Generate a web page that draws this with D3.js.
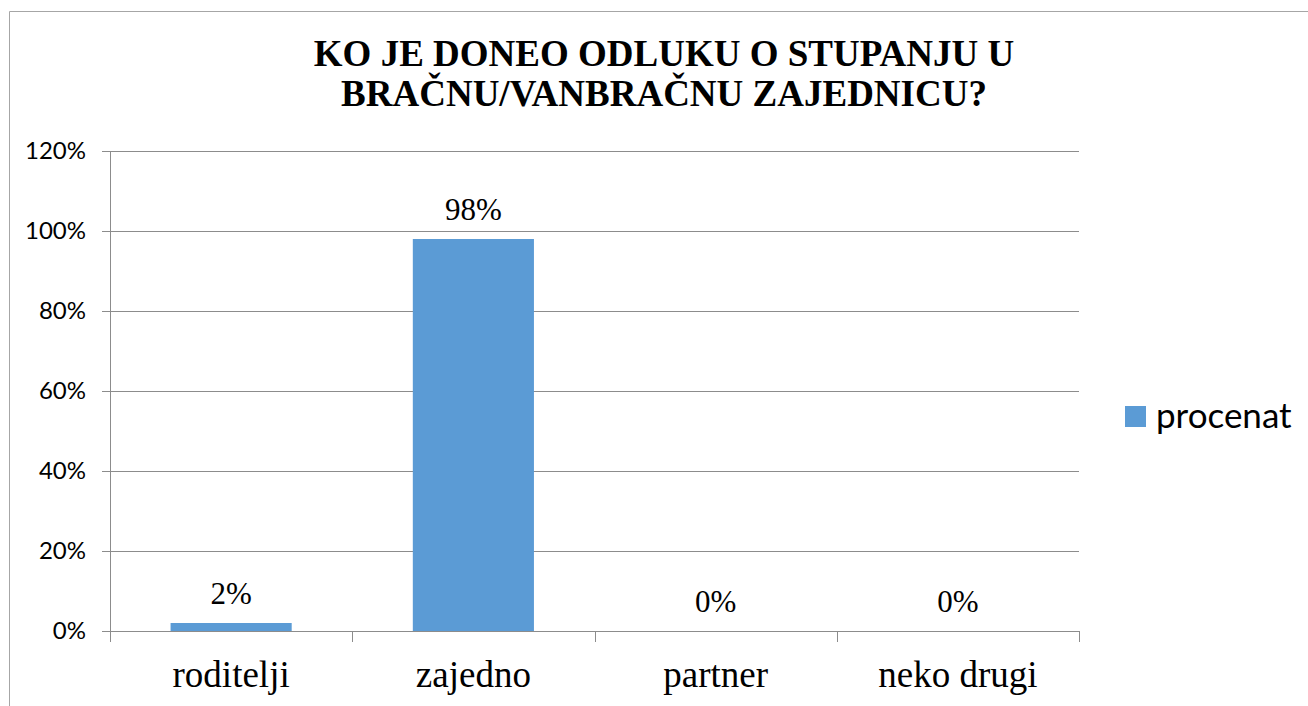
<!DOCTYPE html>
<html><head><meta charset="utf-8">
<script src="https://cdn.jsdelivr.net/npm/d3@7"></script>
<style>html,body{margin:0;padding:0;background:#fff;}svg{display:block;}
.serif{font-family:"Liberation Serif","Times New Roman",Tinos,"DejaVu Serif",serif;}
.sans{font-family:Lato,"Liberation Sans",sans-serif;}
</style>
</head><body>
<script>
const categories = ["roditelji", "zajedno", "partner", "neko drugi"];
const values = [0.02, 0.98, 0, 0];
const valueLabels = ["2%", "98%", "0%", "0%"];
const yTicks = [0, 0.2, 0.4, 0.6, 0.8, 1.0, 1.2];
const seriesName = "procenat";
const titleLines = ["KO JE DONEO ODLUKU O STUPANJU U", "BRAČNU/VANBRAČNU ZAJEDNICU?"];

(function () {
const W = 1308, H = 706;
const svg = d3.select("body").append("svg").attr("width", W).attr("height", H);

// outer border (only left and top visible)
svg.append("path").attr("d", `M9.5,${H} V11.5 H${W}`).attr("fill", "none").attr("stroke", "#a6a6a6").attr("stroke-width", 1);

const pLeft = 110, pRight = 1079, pTop = 151, pBottom = 631;
const x = d3.scaleBand().domain(categories).range([pLeft, pRight]).paddingInner(0.5).paddingOuter(0.25);
const y = d3.scaleLinear().domain([0, 1.2]).range([pBottom, pTop]);

// gridlines
svg.append("g").selectAll("line").data(yTicks).join("line")
  .attr("x1", pLeft - 8).attr("x2", pRight)
  .attr("y1", d => Math.round(y(d)) + 0.5).attr("y2", d => Math.round(y(d)) + 0.5)
  .attr("stroke", "#8c8c8c").attr("stroke-width", 1);

// y axis labels
svg.append("g").selectAll("text").data(yTicks).join("text")
  .attr("class", "sans")
  .attr("x", 86).attr("y", d => y(d) + 8)
  .attr("text-anchor", "end")
  .style("font-size", "24px")
  .attr("fill", "#000")
  .text(d3.format(".0%"));

// y axis line
svg.append("line").attr("x1", pLeft + 0.5).attr("x2", pLeft + 0.5).attr("y1", pTop).attr("y2", pBottom + 11)
  .attr("stroke", "#8c8c8c");

// category boundary ticks
const bounds = d3.range(categories.length + 1).map(i => pLeft + i * (pRight - pLeft) / categories.length);
svg.append("g").selectAll("line").data(bounds).join("line")
  .attr("x1", d => Math.round(d) + 0.5).attr("x2", d => Math.round(d) + 0.5)
  .attr("y1", pBottom).attr("y2", pBottom + 11)
  .attr("stroke", "#8c8c8c");

// bars
svg.append("g").selectAll("rect").data(values).join("rect")
  .attr("x", (d, i) => x(categories[i]))
  .attr("width", x.bandwidth())
  .attr("y", d => y(d))
  .attr("height", d => pBottom - y(d))
  .attr("fill", "#5b9bd5");

// value labels
svg.append("g").selectAll("text").data(values).join("text")
  .attr("class", "serif")
  .attr("x", (d, i) => x(categories[i]) + x.bandwidth() / 2)
  .attr("y", d => y(d) - 19)
  .attr("text-anchor", "middle")
  .style("font-size", "31px")
  .attr("fill", "#000")
  .text((d, i) => valueLabels[i]);

// category labels
svg.append("g").selectAll("text").data(categories).join("text")
  .attr("class", "serif")
  .attr("x", d => x(d) + x.bandwidth() / 2)
  .attr("y", 687)
  .attr("text-anchor", "middle")
  .style("font-size", "37px")
  .attr("fill", "#000")
  .text(d => d);

// title
svg.append("g").selectAll("text").data(titleLines).join("text")
  .attr("class", "serif")
  .attr("x", 664).attr("y", (d, i) => 66 + i * 40)
  .attr("text-anchor", "middle")
  .style("font-size", "37px")
  .style("font-weight", "bold").attr("fill", "#000")
  .text(d => d);

// legend
const lg = svg.append("g");
lg.append("rect").attr("x", 1125).attr("y", 406).attr("width", 21).attr("height", 21).attr("fill", "#5b9bd5");
lg.append("text").attr("class", "sans").attr("x", 1156).attr("y", 428)
  .style("font-size", "35px")
  .attr("fill", "#000").text(seriesName);
})();
</script>
</body></html>
